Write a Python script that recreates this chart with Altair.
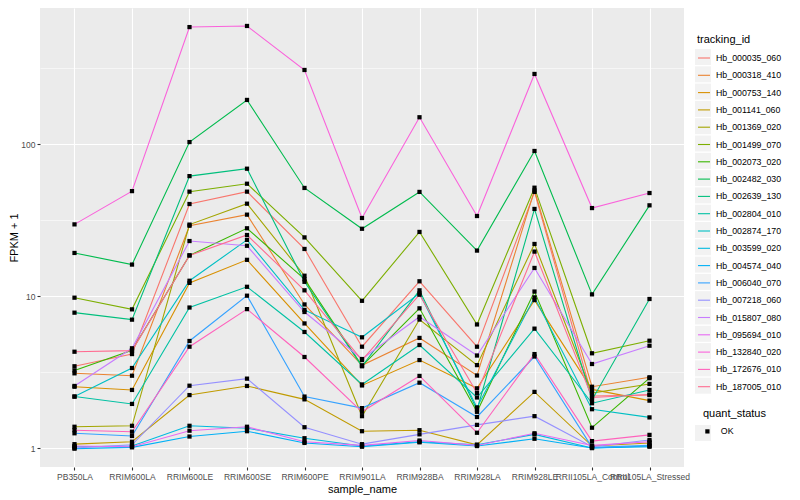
import altair as alt
import pandas as pd

samples = ["PB350LA", "RRIM600LA", "RRIM600LE", "RRIM600SE", "RRIM600PE", "RRIM901LA",
           "RRIM928BA", "RRIM928LA", "RRIM928LE", "RRII105LA_Control", "RRII105LA_Stressed"]

tracking_ids = ["Hb_000035_060", "Hb_000318_410", "Hb_000753_140", "Hb_001141_060",
                "Hb_001369_020", "Hb_001499_070", "Hb_002073_020", "Hb_002482_030",
                "Hb_002639_130", "Hb_002804_010", "Hb_002874_170", "Hb_003599_020",
                "Hb_004574_040", "Hb_006040_070", "Hb_007218_060", "Hb_015807_080",
                "Hb_095694_010", "Hb_132840_020", "Hb_172676_010", "Hb_187005_010"]

colors = ["#F8766D", "#EA8331", "#D89000", "#C09B00", "#A3A500", "#7CAE00", "#39B600",
          "#00BB4E", "#00BF7D", "#00C1A3", "#00BFC4", "#00BAE0", "#00B0F6", "#35A2FF",
          "#9590FF", "#C77CFF", "#E76BF3", "#FA62DB", "#FF62BC", "#FF6C91"]

# FPKM + 1 per sample (order of `samples`)
hb_000035_060 = [3.45, 4.15, 40.3, 48.6, 20.4, 4.64, 12.5, 4.64, 48.4, 2.20, 2.23]
hb_000318_410 = [3.10, 2.99, 29.0, 34.3, 8.8, 3.50, 5.30, 3.00, 49.5, 2.53, 2.92]
hb_000753_140 = [2.53, 2.41, 12.2, 17.3, 6.6, 2.58, 3.79, 2.47, 9.4, 2.43, 2.05]
hb_001141_060 = [1.06, 1.10, 2.23, 2.56, 2.09, 1.29, 1.31, 1.05, 2.34, 1.03, 1.08]
hb_001369_020 = [1.38, 1.40, 29.5, 40.5, 13.6, 1.62, 7.0, 3.51, 22.0, 2.30, 2.64]
hb_001499_070 = [9.75, 8.17, 48.6, 54.8, 24.3, 9.3, 26.4, 6.5, 51.6, 4.20, 5.08]
hb_002073_020 = [3.24, 4.40, 18.5, 27.9, 12.9, 3.47, 8.3, 1.73, 10.7, 1.36, 2.88]
hb_002482_030 = [19.2, 16.1, 103.0, 195.0, 51.4, 27.7, 48.4, 19.9, 90.0, 10.25, 39.5]
hb_002639_130 = [7.77, 6.99, 61.5, 68.8, 12.4, 3.45, 10.9, 1.78, 37.4, 2.07, 9.56]
hb_002804_010 = [2.18, 1.95, 8.4, 11.5, 5.8, 2.62, 4.76, 2.15, 6.1, 1.97, 2.41]
hb_002874_170 = [2.18, 3.36, 12.6, 23.4, 8.1, 5.35, 10.4, 1.85, 9.8, 1.80, 1.59]
hb_003599_020 = [1.02, 1.03, 1.40, 1.35, 1.16, 1.03, 1.10, 1.05, 1.23, 1.00, 1.03]
hb_004574_040 = [0.99, 1.01, 1.19, 1.29, 1.08, 1.02, 1.09, 1.03, 1.15, 1.00, 1.02]
hb_006040_070 = [1.25, 1.20, 5.06, 10.05, 2.18, 1.83, 2.69, 1.60, 4.0, 1.01, 1.04]
hb_007218_060 = [1.00, 1.05, 2.57, 2.86, 1.37, 1.06, 1.23, 1.42, 1.62, 1.02, 1.13]
hb_015807_080 = [2.56, 4.53, 23.0, 21.4, 7.85, 3.85, 7.3, 4.06, 15.3, 3.57, 4.71]
hb_095694_010 = [1.03, 1.02, 1.30, 1.38, 1.10, 1.04, 1.12, 1.04, 1.25, 1.04, 1.10]
hb_132840_020 = [29.6, 49.0, 588.0, 598.0, 307.0, 32.6, 150.0, 33.6, 289.0, 37.9, 47.6]
hb_172676_010 = [1.31, 1.28, 4.64, 8.2, 3.97, 1.73, 2.98, 1.26, 4.15, 1.11, 1.22]
hb_187005_010 = [4.30, 4.37, 18.5, 25.2, 10.9, 3.79, 10.2, 2.30, 19.6, 2.15, 2.25]

series = [hb_000035_060, hb_000318_410, hb_000753_140, hb_001141_060, hb_001369_020,
          hb_001499_070, hb_002073_020, hb_002482_030, hb_002639_130, hb_002804_010,
          hb_002874_170, hb_003599_020, hb_004574_040, hb_006040_070, hb_007218_060,
          hb_015807_080, hb_095694_010, hb_132840_020, hb_172676_010, hb_187005_010]

y_breaks = [1, 3.16228, 10, 31.6228, 100, 316.228]
major = "(datum.value == 1 || datum.value == 10 || datum.value == 100)"

rows = []
for tid, vals in zip(tracking_ids, series):
    for s, v in zip(samples, vals):
        rows.append({"sample_name": s, "tracking_id": tid, "tracking_key": tid,
                     "fpkm": v, "quant_status": "OK", "quant_key": "OK"})
df = pd.DataFrame(rows)

font = "Liberation Sans"
KEY = "#F2F2F2"
CLEAR = "rgba(0,0,0,0)"

x_enc = alt.X("sample_name:N", sort=samples,
              scale=alt.Scale(type="point", padding=0.6),
              axis=alt.Axis(title="sample_name", labelAngle=0, labelOverlap=False,
                            labelFlush=False, labelBound=False, labelFontSize=8.5,
                            labelColor="#4D4D4D", labelPadding=2, tickColor="#333333",
                            tickSize=3, tickWidth=1.1, domain=False, grid=True,
                            gridColor="white", gridWidth=1.1, titleFontSize=11,
                            titleFontWeight="normal", titleColor="black", titlePadding=3))
y_enc = alt.Y("fpkm:Q",
              scale=alt.Scale(type="log", domain=[0.75, 785], nice=False),
              axis=alt.Axis(title="FPKM + 1", values=y_breaks,
                            labelExpr=major + " ? format(datum.value, 'd') : ''",
                            labelFontSize=8.5, labelColor="#4D4D4D", labelPadding=2,
                            tickColor="#333333", tickSize=3, tickWidth=1.1,
                            tickOpacity={"condition": {"test": major, "value": 1}, "value": 0},
                            domain=False, grid=True, gridColor="white",
                            gridWidth={"condition": {"test": major, "value": 1.1}, "value": 0.55},
                            titleFontSize=11, titleFontWeight="normal", titleColor="black",
                            titlePadding=1))

base = alt.Chart(df).encode(x=x_enc, y=y_enc)

common = dict(orient="none", labelFontSize=8.8, titleFontSize=11, titleFontWeight="normal",
              padding=0)

# grey key boxes behind the legend entries (no titles of their own)
key_boxes = base.mark_point(opacity=0, shape="square").encode(
    fill=alt.Fill("tracking_key:N", scale=alt.Scale(domain=tracking_ids, range=[KEY]),
                  legend=alt.Legend(title=None, legendX=655, legendY=41,
                                    symbolType="square", symbolSize=256, symbolOpacity=1,
                                    symbolStrokeWidth=0, rowPadding=1.3, labelExpr="''",
                                    labelColor=CLEAR, zindex=0, **common))
)
quant_boxes = base.mark_point(opacity=0, shape="square").encode(
    fill=alt.Fill("quant_key:N", scale=alt.Scale(domain=["OK"], range=[KEY]),
                  legend=alt.Legend(title=None, legendX=655, legendY=417,
                                    symbolType="square", symbolSize=256, symbolOpacity=1,
                                    symbolStrokeWidth=0, labelExpr="''",
                                    labelColor=CLEAR, zindex=0, **common))
)

lines = base.mark_line(strokeWidth=1.1).encode(
    color=alt.Color("tracking_id:N",
                    scale=alt.Scale(domain=tracking_ids, range=colors),
                    legend=alt.Legend(title="tracking_id", legendX=657, legendY=26,
                                      symbolType="stroke", symbolSize=144,
                                      symbolStrokeWidth=1.1, rowPadding=5.3, labelOffset=5,
                                      titlePadding=6, labelColor="black",
                                      titleColor="black", zindex=1, **common))
)

points = base.mark_point(shape="square", filled=True, size=18, color="black", opacity=1).encode(
    shape=alt.Shape("quant_status:N", scale=alt.Scale(range=["square"]),
                    legend=alt.Legend(title="quant_status", legendX=663, legendY=400,
                                      symbolFillColor="black", symbolStrokeColor="black",
                                      symbolSize=18, labelOffset=9, titlePadding=8,
                                      labelColor="black", titleColor="black", zindex=1,
                                      **common))
)

chart = (key_boxes + quant_boxes + lines + points).resolve_scale(fill="independent").properties(
    width=644, height=459,
    autosize=alt.AutoSizeParams(type="none"),
    padding={"left": 32, "top": 0, "right": 108, "bottom": 30},
).configure(font=font, background="white").configure_view(fill="#EBEBEB", stroke=None)

chart.save("out.html", embed_options={"renderer": "svg", "actions": False})
